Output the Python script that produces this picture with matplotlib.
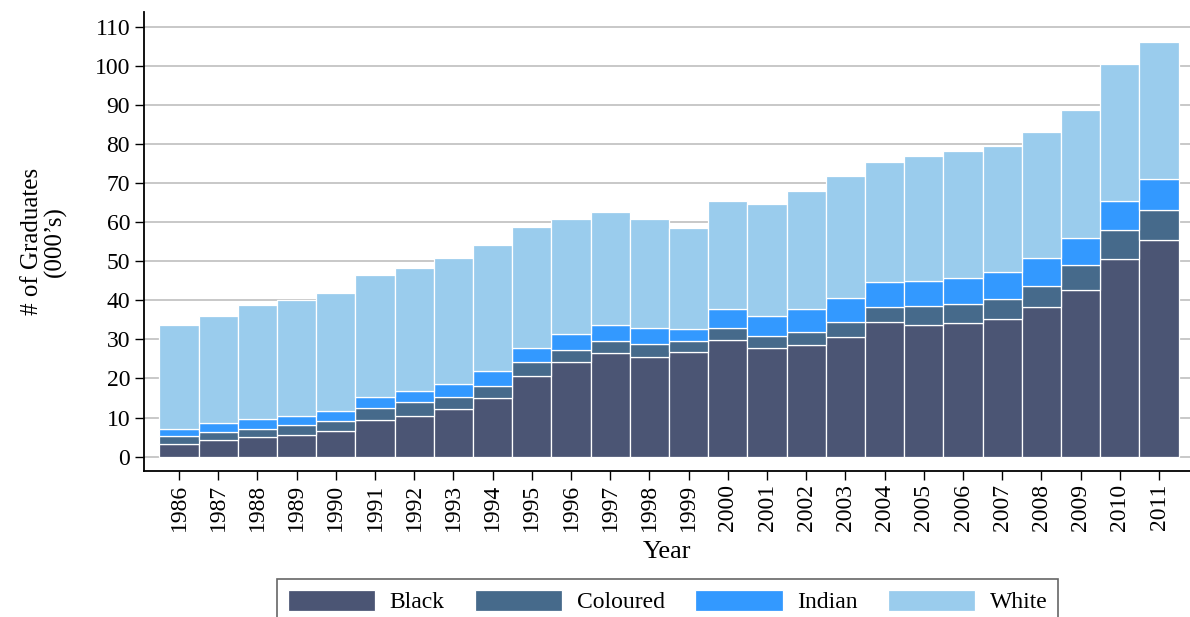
import matplotlib
matplotlib.use('Agg')
import matplotlib.pyplot as plt
import numpy as np

years = list(range(1986, 2012))

# cumulative tops (thousands)
black_top    = [3.3, 4.3, 5.0, 5.6, 6.5, 9.4, 10.4, 12.1, 15.0, 20.7, 24.2, 26.4, 25.5,
                26.8, 29.8, 27.8, 28.5, 30.6, 34.4, 33.8, 34.2, 35.2, 38.2, 42.6, 50.5, 55.5]
coloured_top = [5.2, 6.3, 7.2, 8.1, 9.2, 12.5, 13.9, 15.3, 18.2, 24.2, 27.4, 29.6, 28.7,
                29.5, 32.8, 30.8, 32.0, 34.5, 38.3, 38.5, 39.0, 40.3, 43.8, 49.1, 57.9, 63.1]
indian_top   = [7.2, 8.7, 9.7, 10.5, 11.7, 15.2, 16.7, 18.5, 21.8, 27.9, 31.3, 33.8, 32.9,
                32.6, 37.8, 36.1, 37.8, 40.7, 44.6, 44.9, 45.7, 47.2, 50.9, 56.0, 65.4, 71.1]
total        = [33.8, 36.1, 38.7, 40.0, 41.9, 46.6, 48.4, 50.8, 54.1, 58.9, 60.8, 62.7, 60.7,
                58.6, 65.3, 64.7, 67.9, 71.9, 75.5, 76.9, 78.1, 79.5, 83.0, 88.8, 100.6, 106.2]

labels = ['Black', 'Coloured', 'Indian', 'White']
colors = ['#4b5574', '#466a8b', '#3399ff', '#9acced']

plt.rcParams['font.family'] = ['Liberation Serif', 'DejaVu Serif']

black    = np.array(black_top)
coloured = np.array(coloured_top) - black
indian   = np.array(indian_top) - np.array(coloured_top)
white    = np.array(total) - np.array(indian_top)

fig = plt.figure(figsize=(11.9, 6.17), dpi=100)
ax  = fig.add_axes([144/1190, 1 - 470.7/617, 1 - 144/1190, (470.7 - 12)/617])

bottom = np.zeros(len(years))
for vals, lab, col in zip([black, coloured, indian, white], labels, colors):
    ax.bar(years, vals, bottom=bottom, width=1.0, color=col, label=lab,
           edgecolor='white', linewidth=0.9, zorder=2)
    bottom = bottom + vals

ax.set_xlim(1985.107, 2011.79)
ax.set_ylim(-3.6, 113.8)
ax.set_yticks(range(0, 111, 10))
ax.set_xticks(years)
ax.set_xticklabels([str(y) for y in years], rotation=90)
ax.yaxis.grid(True, color='#c8c8c8', linewidth=1.4, zorder=0)
ax.set_axisbelow(True)

for side in ['top', 'right']:
    ax.spines[side].set_visible(False)
for side in ['left', 'bottom']:
    ax.spines[side].set_linewidth(1.3)

ax.tick_params(axis='both', labelsize=17, length=6.5, width=1.0, direction='out')
ax.tick_params(axis='x', pad=3)
ax.set_xlabel('Year', fontsize=19, labelpad=7)
ax.set_ylabel('# of Graduates\n(000’s)', fontsize=18, labelpad=20, linespacing=1.05)

leg = fig.legend(loc='upper center', bbox_to_anchor=(0.561, 1 - 579/617), ncol=4,
                 fontsize=17, frameon=True, fancybox=False, edgecolor='#404040',
                 handlelength=3.7, handleheight=1.0, handletextpad=0.6,
                 columnspacing=1.3, borderpad=0.45, borderaxespad=0)
leg.get_frame().set_linewidth(1.2)

fig.savefig('out.png', dpi=100)
